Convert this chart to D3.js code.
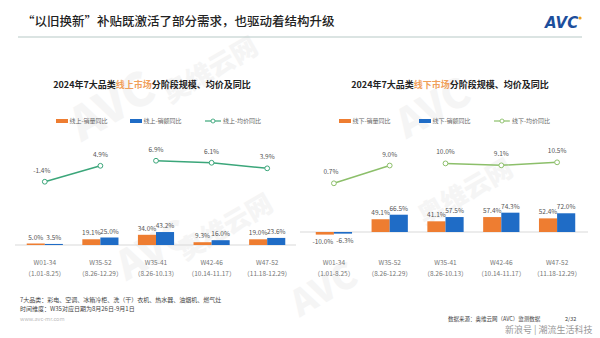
<!DOCTYPE html>
<html><head><meta charset="utf-8">
<script src="https://cdn.jsdelivr.net/npm/d3@7"></script>
<style>
html,body{margin:0;padding:0;background:#fff;}
svg{display:block;font-family:"Noto Sans CJK SC","Noto Sans",sans-serif;}
</style></head>
<body><svg id="c" width="600" height="338"></svg>
<script>
const categories = ["W01-34","W35-52","W35-41","W42-46","W47-52"];
const dateRanges = ["（1.01-8.25）","（8.26-12.29）","（8.26-10.13）","（10.14-11.17）","（11.18-12.29）"];
const onlineVolume = [5.0, 19.1, 34.0, 9.3, 19.0];
const onlineAmount = [3.5, 25.0, 43.2, 16.0, 23.6];
const onlinePrice = [-1.4, 4.9, 6.9, 6.1, 3.9];
const offlineVolume = [-10.0, 49.1, 41.1, 57.4, 52.4];
const offlineAmount = [-6.3, 66.5, 57.5, 74.3, 72.0];
const offlinePrice = [0.7, 9.0, 10.0, 9.1, 10.5];
const lineSegments = [[0,1],[2,3,4]];
const onlineLegend = ["线上-销量同比","线上-销额同比","线上-均价同比"];
const offlineLegend = ["线下-销量同比","线下-销额同比","线下-均价同比"];

const svg = d3.select("#c");
const ORANGE = "#ee7d31", BLUE = "#1f6cc6";

// watermark
const wm = svg.append("g").attr("fill","#f5f5f5").attr("font-weight","900");
[[120,120,"AVC",46],[215,78,"奥维云网",26],[440,120,"AVC",40],[230,235,"奥维云网",26],[160,262,"AVC",40],[470,200,"奥维云网",26],[330,300,"AVC",36]].forEach(d=>{
  wm.append("text").attr("transform",`translate(${d[0]},${d[1]}) rotate(-30)`).attr("text-anchor","middle")
    .attr("font-size",d[3]).text(d[2]);
});

// header
svg.append("text").attr("x",22).attr("y",26).attr("font-size",12.5).attr("font-weight",500).attr("fill","#222")
  .text("“以旧换新”补贴既激活了部分需求，也驱动着结构升级");
svg.append("line").attr("x1",18).attr("x2",582).attr("y1",37).attr("y2",37).attr("stroke","#b7c9c6").attr("stroke-width",1);
svg.append("text").attr("x",545).attr("y",28).attr("font-size",15).attr("font-weight",900).attr("font-style","italic")
  .attr("fill","#1d4f9c").attr("font-family","DejaVu Sans").text("AVC");
svg.append("circle").attr("cx",580).attr("cy",18).attr("r",1.6).attr("fill","#f0a020");

function drawPanel(cfg){
  const g = svg.append("g");
  const t = g.append("text").attr("x",cfg.cx).attr("y",88).attr("text-anchor","middle").attr("font-size",9).attr("font-weight",700).attr("fill","#222");
  t.append("tspan").text("2024年7大品类");
  t.append("tspan").attr("fill","#f0a05a").text(cfg.market);
  t.append("tspan").text("分阶段规模、均价及同比");
  const ly = 121;
  cfg.legendX.forEach((lx,i)=>{
    if(i<2){
      g.append("rect").attr("x",lx).attr("y",ly-2).attr("width",12).attr("height",4).attr("fill",i==0?ORANGE:BLUE);
      g.append("text").attr("x",lx+13.5).attr("y",ly+2).attr("font-size",6).attr("fill","#666").text(cfg.legend[i]);
    } else {
      g.append("line").attr("x1",lx).attr("x2",lx+16).attr("y1",ly).attr("y2",ly).attr("stroke",cfg.lineColor).attr("stroke-width",1.2);
      g.append("circle").attr("cx",lx+8).attr("cy",ly).attr("r",2).attr("fill","#fff").attr("stroke",cfg.lineColor).attr("stroke-width",0.9);
      g.append("text").attr("x",lx+18).attr("y",ly+2).attr("font-size",6).attr("fill","#666").text(cfg.legend[i]);
    }
  });
  const x = d3.scaleBand().domain(categories).range(cfg.xRange).paddingInner(0.35).paddingOuter(0.175);
  const xs = d3.scaleBand().domain(["v","a"]).range([0,x.bandwidth()]);
  const yb = d3.scaleLinear().domain([0,100]).range([cfg.base, cfg.base-cfg.barPx*100]);
  const yl = d3.scaleLinear().domain([0,10]).range([cfg.lineZero, cfg.lineZero-cfg.linePx*10]);
  g.append("line").attr("x1",cfg.axisX[0]).attr("x2",cfg.axisX[1]).attr("y1",cfg.base).attr("y2",cfg.base).attr("stroke","#d9d9d9").attr("stroke-width",1);
  const series = [{k:"v",vals:cfg.vol,c:ORANGE},{k:"a",vals:cfg.amt,c:BLUE}];
  series.forEach(s=>{
    g.selectAll(null).data(s.vals).enter().append("rect")
      .attr("x",(d,i)=>x(categories[i])+xs(s.k)).attr("width",xs.bandwidth())
      .attr("y",d=>Math.min(yb(d),yb(0))).attr("height",d=>Math.abs(yb(d)-yb(0))).attr("fill",s.c);
    g.selectAll(null).data(s.vals).enter().append("text")
      .attr("x",(d,i)=>x(categories[i])+xs(s.k)+xs.bandwidth()/2 + (d<0?(s.k=="v"?-2:2):0))
      .attr("y",d=>d<0? yb(d)+9 : yb(d)-4).attr("text-anchor","middle").attr("font-size",6.5).attr("fill","#555")
      .text(d=>d.toFixed(1)+"%");
  });
  categories.forEach((c,i)=>{
    const cx = x(c)+x.bandwidth()/2;
    g.append("text").attr("x",cx).attr("y",264.5).attr("text-anchor","middle").attr("font-size",6.5).attr("fill","#777").text(c);
    g.append("text").attr("x",cx).attr("y",276).attr("text-anchor","middle").attr("font-size",6.5).attr("fill","#777").text(dateRanges[i]);
  });
  const line = d3.line().x(i=>x(categories[i])+x.bandwidth()/2).y(i=>yl(cfg.price[i]));
  lineSegments.forEach(seg=>{
    g.append("path").attr("d",line(seg)).attr("fill","none").attr("stroke",cfg.lineColor).attr("stroke-width",1.5);
  });
  cfg.price.forEach((p,i)=>{
    const cx = x(categories[i])+x.bandwidth()/2;
    g.append("circle").attr("cx",cx).attr("cy",yl(p)).attr("r",2.4).attr("fill","#fff").attr("stroke",cfg.lineColor).attr("stroke-width",1);
    g.append("text").attr("x",cx-(i==0?3:0)).attr("y",yl(p)-9).attr("text-anchor","middle").attr("font-size",6.5).attr("fill","#555").text(p.toFixed(1)+"%");
  });
}

drawPanel({cx:152, market:"线上市场", legend:onlineLegend, legendX:[56,130,205], lineColor:"#3ba67a",
  xRange:[17,295], axisX:[15,296], base:245, barPx:0.3, lineZero:178.2, linePx:2.53,
  vol:onlineVolume, amt:onlineAmount, price:onlinePrice});
drawPanel({cx:450, market:"线下市场", legend:offlineLegend, legendX:[339,419,494], lineColor:"#8cbf6a",
  xRange:[306,585], axisX:[300,588], base:232, barPx:0.26, lineZero:184.8, linePx:2.14,
  vol:offlineVolume, amt:offlineAmount, price:offlinePrice});

const fn = svg.append("g").attr("font-size",6).attr("fill","#444");
fn.append("text").attr("x",20).attr("y",302).text("7大品类：彩电、空调、冰箱冷柜、洗（干）衣机、热水器、油烟机、燃气灶");
fn.append("text").attr("x",20).attr("y",311).text("时间维度：W35对应日期为8月26日-9月1日");
svg.append("text").attr("x",20).attr("y",321).attr("font-size",5.5).attr("fill","#bbb").text("www.avc-mr.com");
svg.append("text").attr("x",448).attr("y",321).attr("font-size",5.5).attr("fill","#444").text("数据来源：奥维云网（AVC）监测数据");
svg.append("text").attr("x",565).attr("y",321).attr("font-size",5.5).attr("fill","#444").text("2/32");
svg.append("text").attr("x",505).attr("y",333).attr("font-size",9).attr("fill","#999").text("新浪号 | 潮流生活科技");
</script></body></html>
